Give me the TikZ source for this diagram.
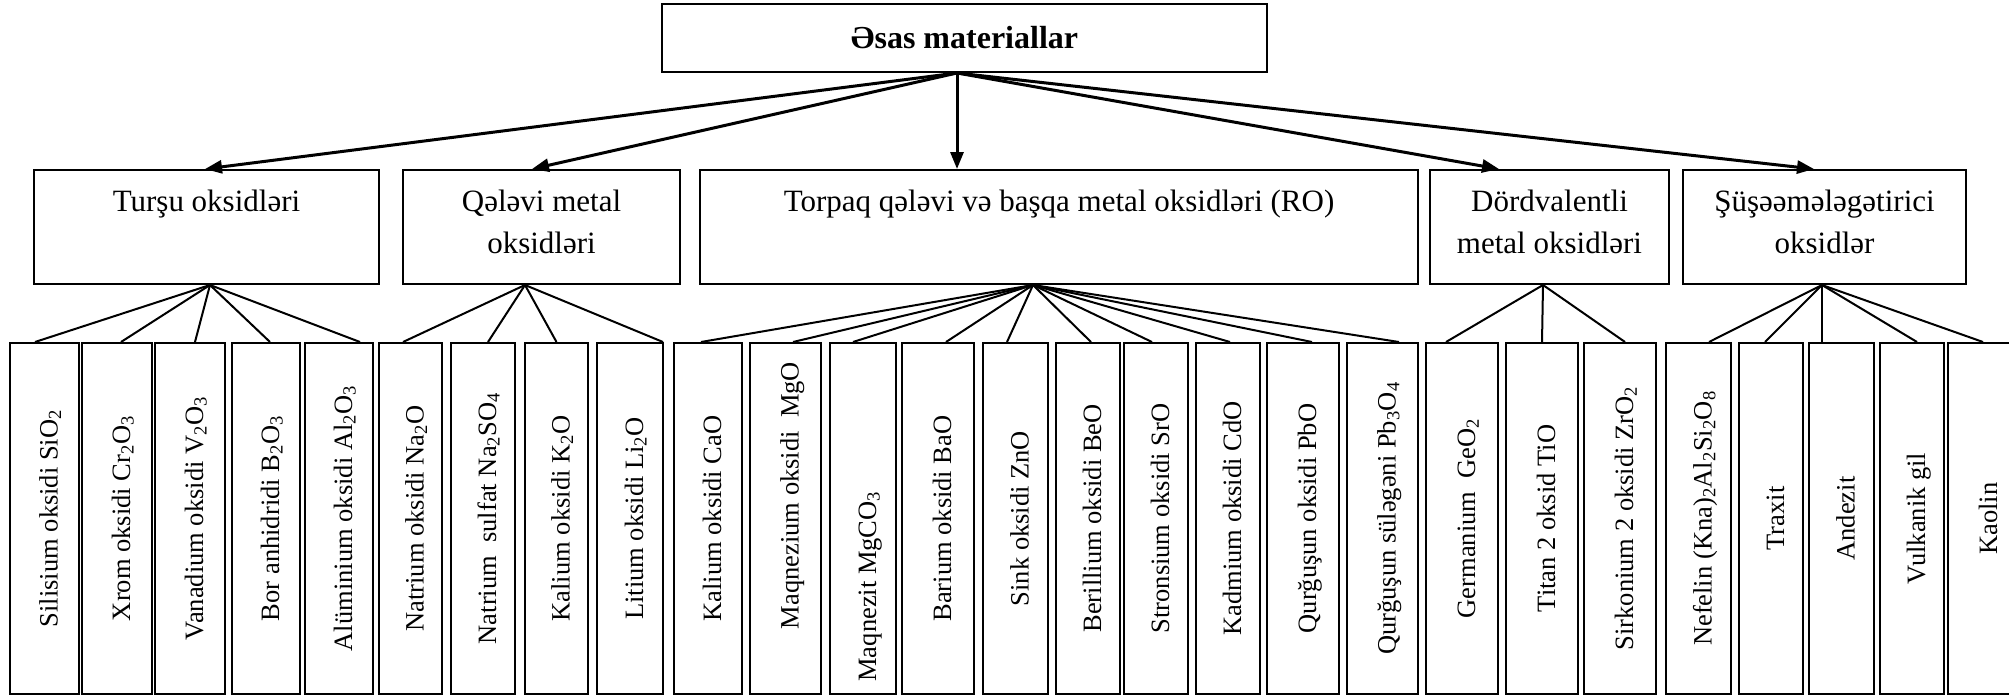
\documentclass[tikz,border=0pt]{standalone}
\usepackage{fontspec}
\setmainfont{Liberation Serif}
\usetikzlibrary{arrows.meta}
\tikzset{
  topbox/.style={draw, line width=2pt, inner sep=0pt, minimum width=605pt,
    minimum height=68pt, font=\fontsize{32}{38}\selectfont\bfseries},
  midbox/.style={draw, line width=2pt, inner sep=0pt, minimum height=114pt},
  midtext/.style={anchor=north, inner sep=0pt, align=center,
    font=\fontsize{31}{42}\selectfont},
  leaf/.style={draw, line width=2pt, inner sep=0pt, minimum height=351pt},
  leaftext/.style={anchor=base, rotate=90, inner sep=0pt,
    font=\fontsize{26.5}{32}\selectfont},
  arr/.style={line width=3pt, -{Triangle[length=17pt,width=13pt]}},
  fan/.style={line width=2pt},
}
\begin{document}
\begin{tikzpicture}[x=1pt, y=-1pt]
\useasboundingbox (0,0) rectangle (2009,696);
\clip (0,0) rectangle (2009,696);

% root
\node[topbox] (top) at (964.5,38) {Əsas materiallar};

% groups
\node[midbox, minimum width=345pt] (m1) at (206.5,227) {};
\node[midbox, minimum width=277pt] (m2) at (541.5,227) {};
\node[midbox, minimum width=718pt] (m3) at (1059,227) {};
\node[midbox, minimum width=239pt] (m4) at (1549.5,227) {};
\node[midbox, minimum width=283pt] (m5) at (1824.5,227) {};

\node[midtext] (m1t) at ([yshift=-21pt]m1.north) {Turşu oksidləri};
\node[midtext] (m2t) at ([yshift=-21pt]m2.north) {Qələvi metal\\oksidləri};
\node[midtext] (m3t) at ([yshift=-21pt]m3.north) {Torpaq qələvi və başqa metal oksidləri (RO)};
\node[midtext] (m4t) at ([yshift=-21pt]m4.north) {Dördvalentli\\metal oksidləri};
\node[midtext] (m5t) at ([yshift=-21pt]m5.north) {Şüşəəmələgətirici\\oksidlər};

% arrows from the root
\draw[arr] ([xshift=-7.5pt]top.south) -- ([xshift=-1.5pt]m1.north);
\draw[arr] ([xshift=-7.5pt]top.south) -- ([xshift=-9.5pt]m2.north);
\draw[arr] ([xshift=-7.5pt]top.south) -- ([xshift=-102pt]m3.north);
\draw[arr] ([xshift=-7.5pt]top.south) -- ([xshift=-50.5pt]m4.north);
\draw[arr] ([xshift=-7.5pt]top.south) -- ([xshift=-10.5pt]m5.north);

% fan origins under each group
\coordinate (f1) at ([xshift=3.5pt]m1.south);
\coordinate (f2) at ([xshift=-16.5pt]m2.south);
\coordinate (f3) at ([xshift=-26pt]m3.south);
\coordinate (f4) at ([xshift=-6.5pt]m4.south);
\coordinate (f5) at ([xshift=-2.5pt]m5.south);

% leaves: id / left / right / fan origin / line end shift / text shift / text
\foreach \id/\xa/\xb/\fo/\dx/\dy/\txt in {
  1/10/79/f1/-9.5/0/Silisium oksidi SiO\textsubscript{2},
  2/82/152/f1/4/0/Xrom oksidi Cr\textsubscript{2}O\textsubscript{3},
  3/155/225/f1/5/0/Vanadium oksidi V\textsubscript{2}O\textsubscript{3},
  4/232/300/f1/4/0/Bor anhidridi B\textsubscript{2}O\textsubscript{3},
  5/305/373/f1/21/0/Alüminium oksidi Al\textsubscript{2}O\textsubscript{3},
  6/379/442/f2/-7.5/0/Natrium oksidi Na\textsubscript{2}O,
  7/451/515/f2/5/0/Natrium~ sulfat Na\textsubscript{2}SO\textsubscript{4},
  8/525/588/f2/0/0/Kalium oksidi K\textsubscript{2}O,
  9/597/663/f2/33/0/Litium oksidi Li\textsubscript{2}O,
  10/674/742/f3/-7/0/Kalium oksidi CaO,
  11/750/821/f3/7.5/-23/Maqnezium oksidi~ MgO,
  12/830/896/f3/-10/68/Maqnezit MgCO\textsubscript{3},
  13/902/974/f3/8/0/Barium oksidi BaO,
  14/983/1048/f3/-8.5/0/Sink oksidi ZnO,
  15/1056/1120/f3/3/0/Berillium oksidi BeO,
  16/1124/1188/f3/-4/0/Stronsium oksidi SrO,
  17/1196/1260/f3/2/0/Kadmium oksidi CdO,
  18/1267/1339/f3/9/0/Qurğuşun oksidi PbO,
  19/1347/1418/f3/16.5/0/Qurğuşun süləgəni Pb\textsubscript{3}O\textsubscript{4},
  20/1426/1498/f4/-16/0/Germanium~ GeO\textsubscript{2},
  21/1506/1578/f4/0/0/Titan 2 oksid TiO,
  22/1584/1656/f4/5/0/Sirkonium 2 oksidi ZrO\textsubscript{2},
  23/1666/1731/f5/10.5/0/Nefelin (Kna)\textsubscript{2}Al\textsubscript{2}Si\textsubscript{2}O\textsubscript{8},
  24/1739/1803/f5/-6/0/Traxit,
  25/1809/1874/f5/-19.5/0/Andezit,
  26/1880/1944/f5/5/0/Vulkanik gil,
  27/1948/2020/f5/-1/0/Kaolin}
{
  \node[leaf, minimum width={\xb-\xa}] (l\id) at ({(\xa+\xb)/2},518.5) {};
  \node[leaftext] (t\id) at ([shift={(13,\dy)}]l\id.center) {\txt};
  \draw[fan] (\fo) -- ([shift={(\dx,0)}]l\id.north);
}
\end{tikzpicture}
\end{document}
